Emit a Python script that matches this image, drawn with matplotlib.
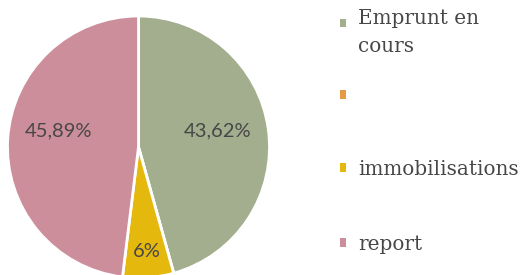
import numpy as np
import matplotlib.pyplot as plt
from matplotlib.patches import Rectangle, Patch
from matplotlib.legend_handler import HandlerPatch

# ---- Donnees ----
categories = ['Emprunt en\ncours', '', 'immobilisations', 'report']
valeurs    = [43.62, 0.0, 6.0, 45.89]
etiquettes = ['43,62%', '', '6%', '45,89%']
couleurs   = ['#a3ae8f', '#e79a45', '#e5b80e', '#cd8e9b']

TEXTE = '#474747'

fig = plt.figure(figsize=(5.28, 2.75), dpi=100)
ax = fig.add_axes([7.5 / 528, -3 / 275, 262 / 528, 262 / 275])

wedges, textes, pcts = ax.pie(valeurs, colors=couleurs, startangle=90,
                              counterclock=False, autopct=lambda p: '',
                              pctdistance=0.62,
                              wedgeprops=dict(edgecolor='white', linewidth=2))
ax.set_xlim(-1, 1)
ax.set_ylim(-1, 1)
ax.set_aspect('equal')

for i, t in enumerate(pcts):
    t.set_text(etiquettes[i])
    t.set_fontfamily('Lato')
    t.set_fontsize(14.5)
    t.set_color(TEXTE)


# place une etiquette a partir de l'angle median de sa part
def placer(i, rayon, decalage_deg):
    w = wedges[i]
    ang = np.deg2rad((w.theta1 + w.theta2) / 2 + decalage_deg)
    pcts[i].set_position((rayon * np.cos(ang), rayon * np.sin(ang)))


placer(0, 0.62, 4)     # 43,62% un peu plus haut
placer(2, 0.8, 0)      # 6% plus pres du bord
placer(3, 0.62, -8)    # 45,89% un peu plus haut


# carre de legende decale sur la premiere ligne
def carre(decalage):
    def f(legend, orig_handle, xdescent, ydescent, width, height, fontsize):
        return Rectangle((-xdescent, -ydescent + decalage), width, height)
    return HandlerPatch(patch_func=f)


carres = [Patch(facecolor=c, edgecolor='none') for c in couleurs]

police = dict(family='DejaVu Serif', size=14.4)
opts = dict(loc='upper left', frameon=False, borderpad=0, borderaxespad=0,
            handlelength=0.3, handleheight=0.3, handletextpad=0.6, prop=police,
            labelcolor=TEXTE)

legA = fig.legend(carres[:2], categories[:2],
                  bbox_to_anchor=(340 / 528, 1 - 9 / 275),
                  labelspacing=1.55,
                  handler_map={carres[0]: carre(7)}, **opts)
for t in legA.get_texts():
    t.set_linespacing(1.6)

legB = fig.legend(carres[2:], categories[2:],
                  bbox_to_anchor=(340 / 528, 1 - 160 / 275),
                  labelspacing=2.8, **opts)

fig.savefig('out.png', dpi=100)
